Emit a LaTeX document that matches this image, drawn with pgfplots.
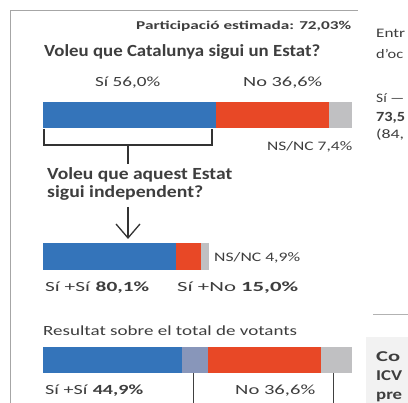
\documentclass[border=0pt]{standalone}
\usepackage{pgfplots}
\pgfplotsset{compat=1.18}
\usepackage{graphicx}
\usepackage{fontspec}
\setmainfont{Carlito}

\definecolor{siblue}{RGB}{52,116,186}
\definecolor{nored}{RGB}{232,72,38}
\definecolor{nsgray}{RGB}{192,192,194}
\definecolor{mixblue}{RGB}{136,150,186}
\definecolor{txt}{RGB}{62,62,62}

% text ajustat a una amplada: #1 amplada (pt), #2 cos, #3 text
\newcommand\fit[3]{{\fontsize{#2}{#2}\selectfont\resizebox{#1pt}{\height}{#3}}}

\pgfplotsset{
  resbar/.style={
    hide axis, scale only axis,
    xbar stacked, bar width=26pt,
    xmin=0, xmax=100, ymin=0.5, ymax=1.5,
    height=26pt, clip=false,
    every axis plot/.append style={draw=none},
  }
}

\begin{document}
\begin{tikzpicture}[x=1pt,y=1pt,every node/.style={text=txt,inner sep=0pt}]
\fill[white] (0,0) rectangle (408,-403);
% marc
\draw[gray!70,line width=0.8pt] (10,-403) -- (10,-10) -- (358,-10);
\draw[gray!60,line width=1pt] (373,-315) -- (408,-315);
\fill[gray!10] (366,-337) rectangle (408,-403);

\node[anchor=base west] at (136,-30) {\fit{215}{12}{\bfseries Participació estimada: 72,03\%}};
\node[anchor=base west] at (44,-57) {\fit{276}{17}{\bfseries Voleu que Catalunya sigui un Estat?}};
\node[anchor=base west] at (95,-87) {\fit{65}{14}{Sí 56,0\%}};
\node[anchor=base west] at (243,-87) {\fit{79}{14}{No 36,6\%}};

% barra 1
\begin{axis}[resbar, width=309pt, at={(43pt,-102pt)}, anchor=north west]
  \addplot[fill=siblue] coordinates {(56.0,1)};
  \addplot[fill=nored] coordinates {(36.6,1)};
  \addplot[fill=nsgray] coordinates {(7.4,1)};
\end{axis}

\draw[black!80,line width=1.8pt] (44,-129) -- (44,-145) -- (212,-145) -- (212,-129);
\draw[black!80,line width=1.8pt] (128,-145) -- (128,-164);
\node[anchor=base west] at (267,-151) {\fit{85}{13}{NS/NC 7,4\%}};

\node[anchor=base west] at (47,-180) {\fit{185}{17}{\bfseries Voleu que aquest Estat}};
\node[anchor=base west] at (47,-198) {\fit{156}{17}{\bfseries sigui independent?}};
\draw[black!80,line width=1.3pt] (128,-207) -- (128,-237);
\draw[black!80,line width=1.3pt] (116,-224) -- (128,-238) -- (140,-224);

% barra 2
\begin{axis}[resbar, width=166pt, height=27pt, bar width=27pt, at={(43pt,-243pt)}, anchor=north west]
  \addplot[fill=siblue] coordinates {(80.1,1)};
  \addplot[fill=nored] coordinates {(15.0,1)};
  \addplot[fill=nsgray] coordinates {(4.9,1)};
\end{axis}
\node[anchor=base west] at (214,-262) {\fit{86}{13}{NS/NC 4,9\%}};
\node[anchor=base west] at (45,-292) {\fit{104}{14}{Sí +Sí \textbf{80,1\%}}};
\node[anchor=base west] at (177,-292) {\fit{121}{14}{Sí +No \textbf{15,0\%}}};

\node[anchor=base west] at (43,-336) {\fit{254}{14}{Resultat sobre el total de votants}};

% barra 3
\begin{axis}[resbar, width=309pt, at={(43pt,-347pt)}, anchor=north west]
  \addplot[fill=siblue] coordinates {(44.9,1)};
  \addplot[fill=mixblue] coordinates {(8.4,1)};
  \addplot[fill=nored] coordinates {(36.6,1)};
  \addplot[fill=nsgray] coordinates {(10.1,1)};
\end{axis}
\draw[black!75,line width=1pt] (193,-373) -- (193,-403);
\draw[black!75,line width=1pt] (333,-373) -- (333,-403);
\node[anchor=base west] at (45,-395) {\fit{98}{14}{Sí +Sí \textbf{44,9\%}}};
\node[anchor=base west] at (235,-395) {\fit{80}{14}{No 36,6\%}};

% columna dreta (tallada al marge)
\node[anchor=base west] at (376,-38) {\fit{29}{13}{Entr}};
\node[anchor=base west] at (376,-59) {\fit{27}{13}{d'oc}};
\node[anchor=base west] at (376,-103) {\fit{28}{13}{Sí —}};
\node[anchor=base west] at (376,-122) {\fit{29}{14}{\bfseries 73,5}};
\node[anchor=base west] at (376,-139) {\fit{28}{13}{(84,}};
\node[anchor=base west] at (376,-362) {\fit{24}{15}{\bfseries Co}};
\node[anchor=base west] at (376,-381) {\fit{26}{15}{\bfseries ICV}};
\node[anchor=base west] at (376,-400) {\fit{26}{15}{\bfseries pre}};

\pgfresetboundingbox
\path[use as bounding box] (0,0) rectangle (408,-403);
\end{tikzpicture}
\end{document}
